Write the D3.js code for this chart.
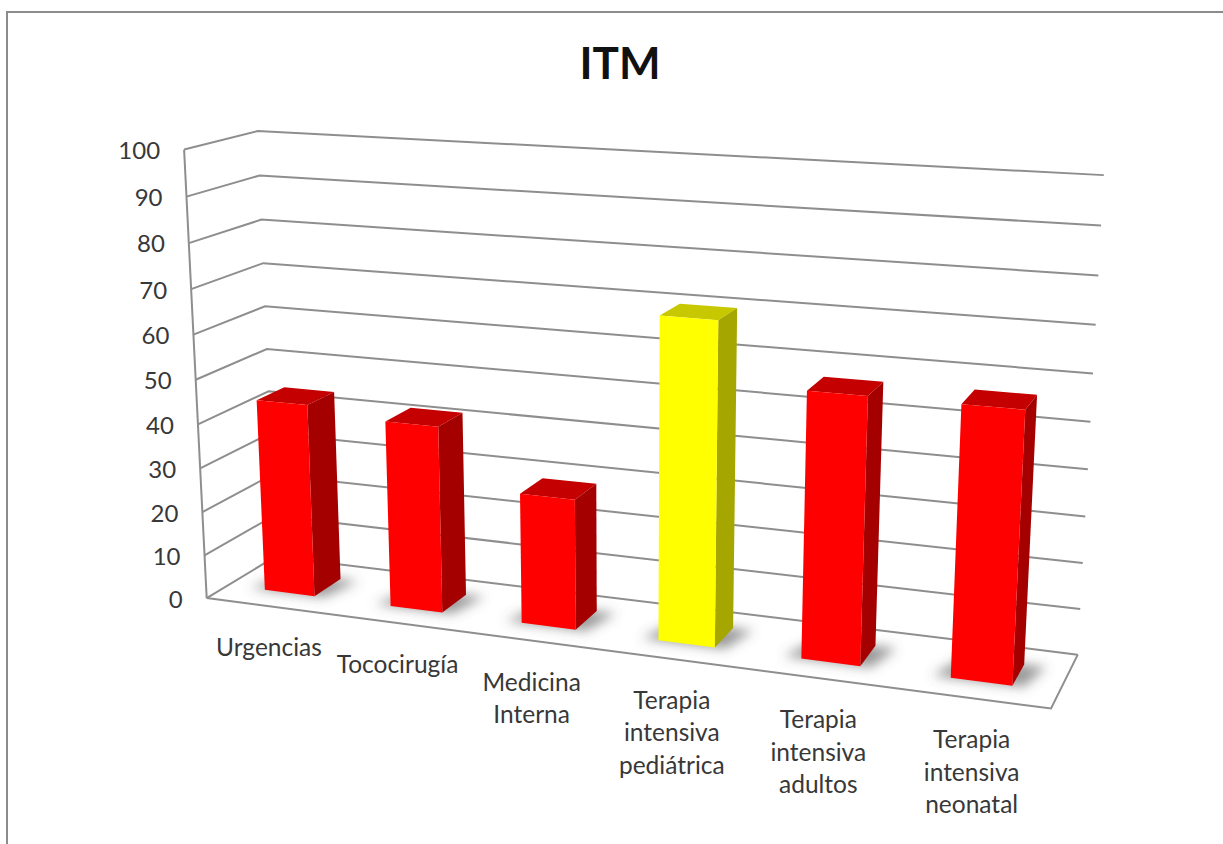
<!DOCTYPE html>
<html>
<head>
<meta charset="utf-8">
<script src="https://cdn.jsdelivr.net/npm/d3@7"></script>
<style>
html, body { margin: 0; padding: 0; background: #fff; }
svg { display: block; }
text { font-family: Lato, "Open Sans", sans-serif; fill: #383838; }
</style>
</head>
<body>
<svg id="chart" width="1223" height="844"></svg>
<script>
// Chart content
const chartTitle = "ITM";
const categoryLines = [
  ["Urgencias"],
  ["Tococirugía"],
  ["Medicina", "Interna"],
  ["Terapia", "intensiva", "pediátrica"],
  ["Terapia", "intensiva", "adultos"],
  ["Terapia", "intensiva", "neonatal"]
];
const itmValues = [44, 42, 29, 70, 57, 57];
const tickValues = [0, 10, 20, 30, 40, 50, 60, 70, 80, 90, 100];
const highlighted = [false, false, false, true, false, false];

// Face shades: front, side, top
const redShades = ["#ff0000", "#a50000", "#c40000"];
const yellowShades = ["#ffff00", "#a6a600", "#c8c800"];

// Where the plot box lands on the page: [u, v, w] -> [x, y]
const boxCalibration = [
  [[0, 0, 0], [207, 598]],
  [[1, 0, 0], [1051, 709]],
  [[0, 1, 0], [183.5, 150]],
  [[0, 0, 1], [275, 557]],
  [[1, 0, 1], [1078, 654]],
  [[0, 1, 1], [258, 131]],
  [[1, 1, 1], [1104, 175]],
  [[0, 0.5, 1], [267, 349]],
  [[1, 0.5, 1], [1090, 422]],
  [[0, 0.5, 0], [196, 379]]
];

// Least-squares fit of a 3x4 perspective camera to the calibration points
function fitCamera(points) {
  const rows = [], rhs = [];
  points.forEach(([[u, v, w], [x, y]]) => {
    rows.push([u, v, w, 1, 0, 0, 0, 0, -x * u, -x * v, -x * w]); rhs.push(x);
    rows.push([0, 0, 0, 0, u, v, w, 1, -y * u, -y * v, -y * w]); rhs.push(y);
  });
  const n = 11;
  const A = d3.range(n).map(i => d3.range(n + 1).map(j =>
    d3.sum(rows, (r, k) => r[i] * (j < n ? r[j] : rhs[k]))));
  for (let c = 0; c < n; c++) {
    let p = c;
    for (let r = c + 1; r < n; r++) if (Math.abs(A[r][c]) > Math.abs(A[p][c])) p = r;
    [A[c], A[p]] = [A[p], A[c]];
    for (let r = 0; r < n; r++) {
      if (r === c) continue;
      const f = A[r][c] / A[c][c];
      for (let j = c; j <= n; j++) A[r][j] -= f * A[c][j];
    }
  }
  const m = d3.range(n).map(i => A[i][n] / A[i][i]);
  return (u, v, w) => {
    const d = m[8] * u + m[9] * v + m[10] * w + 1;
    return [
      (m[0] * u + m[1] * v + m[2] * w + m[3]) / d,
      (m[4] * u + m[5] * v + m[6] * w + m[7]) / d
    ];
  };
}
const project = fitCamera(boxCalibration);

// Scales into box coordinates
const uScale = d3.scaleBand().domain(d3.range(itmValues.length)).range([0, 1]).paddingInner(0.6).paddingOuter(0.3);
const vScale = d3.scaleLinear().domain([0, 100]).range([0, 1]);
const wFront = 0.3, wBack = 0.7;

const svg = d3.select("#chart");
const poly = pts => d3.line()(pts) + "Z";

// Outer chart frame
svg.append("path")
  .attr("d", "M7,844V12H1223")
  .attr("fill", "none").attr("stroke", "#8c8c8c").attr("stroke-width", 2);

svg.append("text")
  .attr("x", 620).attr("y", 79)
  .attr("text-anchor", "middle")
  .attr("font-size", 44).attr("font-weight", 700)
  .style("fill", "#111")
  .text(chartTitle);

const defs = svg.append("defs");
defs.append("filter").attr("id", "floorShadow")
  .attr("x", "-40%").attr("y", "-80%").attr("width", "180%").attr("height", "260%")
  .append("feGaussianBlur").attr("stdDeviation", 6);

// Walls, gridlines and floor
const grid = svg.append("g").attr("fill", "none").attr("stroke", "#8e8e8e").attr("stroke-width", 2);
tickValues.forEach(t => {
  const v = vScale(t);
  grid.append("path").attr("d", d3.line()([project(0, v, 0), project(0, v, 1), project(1, v, 1)]));
});
grid.append("path").attr("d", d3.line()([project(0, 1, 0), project(0, 0, 0)]));
grid.append("path").attr("d", d3.line()([project(0, 0, 0), project(1, 0, 0), project(1, 0, 1)]));

// Value axis labels
svg.append("g").selectAll("text").data(tickValues).join("text")
  .attr("x", t => project(0, vScale(t), 0)[0] - 24)
  .attr("y", t => project(0, vScale(t), 0)[1] + 1)
  .attr("dy", "0.35em")
  .attr("text-anchor", "end")
  .attr("font-size", 24)
  .text(t => t);

// Category labels, hanging below the front floor edge
svg.append("g").selectAll("text").data(categoryLines).join("text")
  .attr("text-anchor", "middle")
  .attr("font-size", 24.5)
  .each(function (lines, i) {
    const [x, y] = project(uScale(i) + uScale.bandwidth() / 2, 0, 0);
    d3.select(this).selectAll("tspan").data(lines).join("tspan")
      .attr("x", x)
      .attr("y", (d, k) => y + 50 + k * 32.5)
      .text(d => d);
  });

// Soft contact shadows on the floor
const shadows = svg.append("g").attr("filter", "url(#floorShadow)");
itmValues.forEach((value, i) => {
  const u0 = uScale(i), u1 = u0 + uScale.bandwidth();
  const du = uScale.bandwidth() * 0.3;
  shadows.append("path")
    .attr("d", poly([
      project(u0 - du, 0, wFront), project(u1 + du * 0.6, 0, wFront),
      project(u1 + du * 1.2, 0, wBack), project(u0, 0, wBack)
    ]))
    .attr("fill", "#555").attr("fill-opacity", 0.6);
});

// Bars, drawn as three visible faces
const bars = svg.append("g").selectAll("g").data(itmValues).join("g");
bars.each(function (value, i) {
  const g = d3.select(this);
  const u0 = uScale(i), u1 = u0 + uScale.bandwidth();
  const v = vScale(value);
  const shades = highlighted[i] ? yellowShades : redShades;
  g.append("path").attr("fill", shades[2]).attr("d", poly([
    project(u0, v, wFront), project(u1, v, wFront), project(u1, v, wBack), project(u0, v, wBack)
  ]));
  g.append("path").attr("fill", shades[1]).attr("d", poly([
    project(u1, 0, wFront), project(u1, v, wFront), project(u1, v, wBack), project(u1, 0, wBack)
  ]));
  g.append("path").attr("fill", shades[0]).attr("d", poly([
    project(u0, 0, wFront), project(u1, 0, wFront), project(u1, v, wFront), project(u0, v, wFront)
  ]));
});
</script>
</body>
</html>
